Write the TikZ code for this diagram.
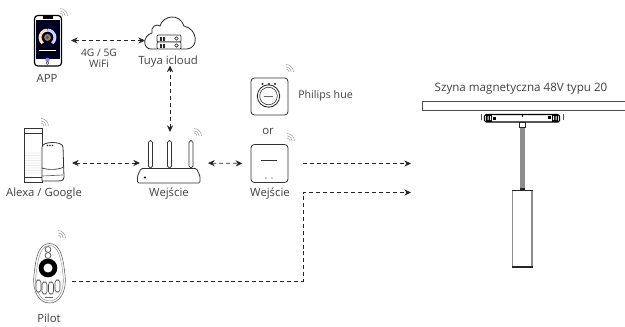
\documentclass[tikz,border=0pt]{standalone}
\usepackage{fontspec}
\setmainfont{Open Sans}
\usetikzlibrary{arrows.meta}
\tikzset{
  lbl/.style={font=\fontsize{8.5pt}{10pt}\selectfont, text=black!75, inner sep=0pt},
  smalllbl/.style={font=\fontsize{7.7pt}{9pt}\selectfont, text=black!75, inner sep=0pt},
  anchorbox/.style 2 args={minimum width=#1*0.75pt, minimum height=#2*0.75pt, inner sep=0pt, outer sep=0pt},
  link/.style={draw=black!85, line width=0.55pt, dash pattern=on 3pt off 2.2pt},
  tip/.style={-{Stealth[length=5pt,width=4.6pt]}},
  twotip/.style={{Stealth[length=5pt,width=4.6pt]}-{Stealth[length=5pt,width=4.6pt]}},
  outline/.style={draw=black!80, line width=0.6pt, fill=white},
  wave/.style={draw=black!45, line width=0.3pt},
}
\newcommand{\wifisign}[2]{%
  \foreach \rr in {2.2pt,3.9pt,5.6pt}{
    \draw[wave] (#1,#2) ++(\rr,0pt) arc[start angle=0,end angle=90,radius=\rr];
  }%
}
\begin{document}
\begin{tikzpicture}[x=0.75pt,y=-0.75pt]
\useasboundingbox (0,0) rectangle (625,326);

% ---- anchor boxes of the devices
\node[anchorbox={37}{51}] (app) at (52.5,40.5) {};
\node[anchorbox={50}{34}] (cloud) at (170,40.5) {};
\node[anchorbox={40}{54}] (voice) at (44,163) {};
\node[anchorbox={60}{46}] (router) at (170,163) {};
\node[anchorbox={37}{38},outline,rounded corners=2.5pt] (gateway) at (269.5,163.5) {};
\node[anchorbox={37}{37},outline,rounded corners=2.5pt] (hue) at (269.5,96.5) {};
\node[anchorbox={33}{40}] (pilot) at (49.5,281) {};
\coordinate (gwend) at (411,163.5);
\coordinate (elbow) at (303,192.5);
\coordinate (pilotend) at (411,192.5);

% ---- phone
\draw[fill=white,draw=black,line width=0.9pt,rounded corners=2.5pt] (34.5,15.5) rectangle (61.5,66);
\fill[black!88!blue] (36,20) rectangle (60,59);
\fill[black] (43,15) rectangle (53,19);
\draw[line width=2.2pt,draw=orange!25!white] (47.5,37.5) ++(-130:5.6pt) arc[start angle=230,end angle=90,radius=5.6pt];
\draw[line width=2.2pt,draw=blue!18!white] (47.5,37.5) ++(90:5.6pt) arc[start angle=90,end angle=-50,radius=5.6pt];
\fill[brown!55!black!70] (47.5,37.5) circle[radius=2.6pt];
\fill[black!70] (47.5,37.5) circle[radius=1pt];
\draw[white,line width=0.4pt] (39,50) -- (56,50);
\fill[blue!45!white] (47.5,60) circle[radius=1.6pt];
\draw[black!70,line width=0.4pt] (47.5,63) circle[radius=1.2pt];
\wifisign{60}{16}

% ---- cloud
\draw[draw=black!85,line width=0.6pt] (157,49) -- (151,49)
  .. controls (143,49) and (142,36) .. (152,33)
  .. controls (150,27) and (157,23) .. (160,26)
  .. controls (163,15) and (180,13) .. (184,26)
  .. controls (198,29) and (199,48) .. (187,49) -- (181,49);
\draw[outline,rounded corners=0.8pt] (157,35) rectangle (181,42);
\draw[outline,rounded corners=0.8pt] (157,42) rectangle (181,49);
\foreach \yy in {38.5,45.5}{
  \fill[black!85] (160,\yy-2) rectangle (161.5,\yy+2);
  \fill[black!85] (163,\yy-2) rectangle (164.5,\yy+2);
  \draw[black!85,line width=0.4pt] (176.5,\yy) circle[radius=1.4pt];
}

% ---- voice assistants
\draw[outline] (24,128) rectangle (42,182);
\draw[black!80,line width=0.5pt] (24,133.5) -- (42,133.5) (24,177) -- (42,177);
\foreach \xx in {26,28,...,40}{\foreach \yy in {153,155.5,...,174}{
  \fill[black!35] (\xx,\yy) circle[radius=0.3pt];}}
\draw[outline] (42,181) -- (42,147) .. controls (42,141) and (63,141) .. (63,147) -- (64,177) .. controls (64,181) and (60,181) .. (58,181) -- cycle;
\draw[black!80,line width=0.5pt] (42,168) .. controls (48,170) and (58,170) .. (64,167);
\draw[black!60,line width=0.5pt] (42,176) -- (63,175);
\foreach \xx in {47.5,50,52.5}{\fill[black!85] (\xx,145.5) circle[radius=0.6pt];}
\wifisign{41}{126}

% ---- router
\foreach \xx in {150.5,169.5,191}{
  \draw[outline,rounded corners=1.4pt] (\xx-2,140.5) rectangle (\xx+2,168);
}
\draw[outline,rounded corners=1pt] (137.5,183) -- (137.5,176) -- (141,168.5) -- (196.5,168.5) -- (200,176) -- (200,183) -- cycle;
\fill[black] (145,177.5) circle[radius=0.9pt];
\wifisign{194}{136}

% ---- hue bridge
\foreach \xx in {262.5,269,275}{\fill[black!85] (\xx,84) circle[radius=0.8pt];}
\draw[black!85,line width=0.6pt] (268.5,96) circle[radius=8.4pt];
\draw[black!85,line width=0.4pt] (268.5,96) circle[radius=6.6pt];
\draw[black!60,line width=0.5pt] (264,96) -- (273,96);
\wifisign{286}{72}

% ---- gateway
\draw[black!80,line width=0.6pt] (261,160.5) -- (277,160.5);
\foreach \xx in {266,272}{\fill[black!85] (\xx,178) circle[radius=0.5pt];}
\wifisign{287}{141}

% ---- remote
\draw[draw=black!65,line width=0.4pt,fill=white] (49.5,243.5)
  .. controls (39,243.5) and (36,256) .. (34,275)
  .. controls (32,293) and (40,303) .. (49.5,303)
  .. controls (59,303) and (67,293) .. (65,275)
  .. controls (63,256) and (60,243.5) .. cycle;
\draw[draw=black!50,line width=0.3pt] (49.5,245.5)
  .. controls (41,245.5) and (38,257) .. (36,275)
  .. controls (34,291) and (41,301) .. (49.5,301)
  .. controls (58,301) and (65,291) .. (63,275)
  .. controls (61,257) and (58,245.5) .. cycle;
\draw[black!70,line width=0.5pt,fill=white] (48,249.5) circle[radius=2.2pt];
\draw[black!70,line width=0.5pt,fill=white] (48,255.5) circle[radius=2.2pt];
\fill[black] (48,268) circle[radius=7pt];
\fill[white] (48,268) circle[radius=3.4pt];
\foreach \xx/\yy in {38.5/286,44.5/288,51/288,57.5/286}{
  \draw[black!70,line width=0.45pt,fill=white,rounded corners=2pt] (\xx-2.5,\yy-6) rectangle (\xx+2.5,\yy+6);
}
\draw[black!60,line width=0.4pt] (45,297) -- (53,297);
\wifisign{58}{238}

% ---- rail and lamp
\draw[draw=black!70,line width=0.6pt,fill=white] (422,101) rectangle (626,110);
\draw[black,line width=0.9pt,fill=white,rounded corners=1.2pt] (484.5,114.5) rectangle (559.5,122);
\fill[black] (486,115) rectangle (492,121.5);
\fill[black] (552,115) rectangle (558,121.5);
\fill[white] (487.5,116) rectangle (488.5,120) (490,116) rectangle (491,120) (553,116) rectangle (554,120) (555.5,116) rectangle (556.5,120);
\fill[black] (493,117) rectangle (496,120);
\fill[black] (548,116) rectangle (551,119);
\fill[black] (521.5,115) rectangle (523,116.5);
\draw[black!70,line width=0.6pt] (481,114) -- (481,120) (563,114) -- (563,120);
\fill[black!45] (520,127) rectangle (524.5,190);
\draw[black!85,line width=0.6pt,fill=white] (519,122) rectangle (525,127);
\draw[black!45,line width=1.3pt] (512.5,190) -- (512.5,267) (532,190) -- (532,267);
\draw[black!85,line width=0.8pt] (511.5,190.5) -- (533,190.5);
\draw[black!85,line width=2pt] (511.5,267) -- (533,267);
\fill[black!85] (520,188) rectangle (524.5,190);

% ---- connectors
\draw[link,twotip] (app.east) -- (cloud.west);
\draw[link,twotip,shorten <=6pt] (voice.east) -- (router.west);
\draw[link,twotip,shorten <=6pt,shorten >=6pt] (router.north) -- (cloud.south);
\draw[link,twotip,shorten <=6pt,shorten >=6.5pt] (router.east) -- (gateway.west);
\draw[link,tip,shorten <=11pt] (gateway.east) -- (gwend);
\draw[link,tip,shorten <=4.5pt] (pilot.east) -| (elbow) -- (pilotend);

% ---- labels
\node[lbl] (tapp) at (47,78) {APP};
\node[smalllbl] (tnet) at (99,53) {4G / 5G};
\node[smalllbl] (twifi) at (99,64) {WiFi};
\node[lbl] (ttuya) at (168,62) {Tuya icloud};
\node[lbl] (tvoice) at (44,194) {Alexa / Google};
\node[lbl] (trouter) at (169,194) {Wejście};
\node[lbl] (tgate) at (270,194) {Wejście};
\node[smalllbl,font=\fontsize{8pt}{9pt}\selectfont,anchor=west] (thue) at (298,96) {Philips hue};
\node[lbl] (tor) at (268,131) {or};
\node[lbl] (tpilot) at (49,318) {Pilot};
\node[lbl,font=\fontsize{8.7pt}{10pt}\selectfont] (trail) at (521,89) {Szyna magnetyczna 48V typu 20};
\end{tikzpicture}
\end{document}
